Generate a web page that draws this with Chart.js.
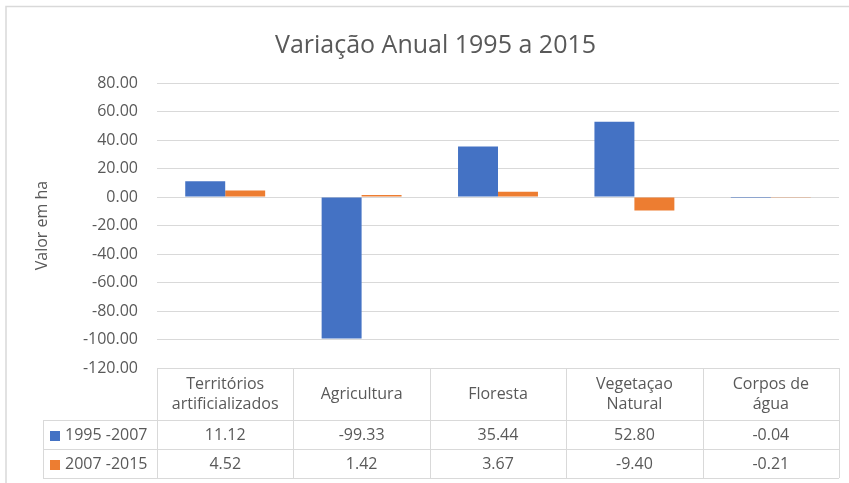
<!DOCTYPE html>
<html>
<head>
<meta charset="utf-8">
<script src="https://cdn.jsdelivr.net/npm/chart.js@4/dist/chart.umd.min.js"></script>
<style>
  body { margin: 0; background: #fff; }
  canvas { display: block; }
</style>
</head>
<body>
<canvas id="chart" width="849" height="483"></canvas>
<script>
// Chart data
const categories = [
  ["Territórios", "artificializados"],
  ["Agricultura"],
  ["Floresta"],
  ["Vegetaçao", "Natural"],
  ["Corpos de", "água"],
];
const seriesNames = ["1995 -2007", "2007 -2015"];
const values9507 = [11.12, -99.33, 35.44, 52.80, -0.04];
const values0715 = [4.52, 1.42, 3.67, -9.40, -0.21];
const yTicks = [80, 60, 40, 20, 0, -20, -40, -60, -80, -100, -120];

const FONT = "'Open Sans', 'DejaVu Sans', sans-serif";
const TEXT = "#595959";
const GRID = "#d9d9d9";
const colors = ["#4472C4", "#ED7D31"];
const seriesValues = [values9507, values0715];

// Excel-like data table under the plot
const dataTable = {
  id: "dataTable",
  beforeDraw(chart) {
    const ctx = chart.ctx;
    ctx.save();
    ctx.strokeStyle = GRID;
    ctx.lineWidth = 1.5;
    ctx.beginPath();
    ctx.moveTo(6, chart.height);
    ctx.lineTo(6, 6.5);
    ctx.lineTo(chart.width, 6.5);
    ctx.stroke();
    ctx.restore();
  },
  afterDraw(chart) {
    const ctx = chart.ctx;
    const x = chart.scales.x;
    const area = chart.chartArea;
    const colW = (area.right - area.left) / categories.length;
    const top = area.bottom;
    const row1 = 420, row2 = 449, bottom = 478, headLeft = 43;

    ctx.save();
    ctx.strokeStyle = GRID;
    ctx.lineWidth = 1;
    ctx.beginPath();
    [row1, row2, bottom].forEach((y) => {
      ctx.moveTo(headLeft, y + 0.5);
      ctx.lineTo(area.right, y + 0.5);
    });
    ctx.moveTo(headLeft + 0.5, row1);
    ctx.lineTo(headLeft + 0.5, bottom);
    for (let i = 0; i <= categories.length; i++) {
      const lx = Math.round(area.left + i * colW) + 0.5;
      ctx.moveTo(lx, top);
      ctx.lineTo(lx, bottom);
    }
    ctx.stroke();

    ctx.fillStyle = TEXT;
    ctx.font = "16px " + FONT;
    ctx.textAlign = "center";
    ctx.textBaseline = "middle";
    categories.forEach((lines, i) => {
      const cx = x.getPixelForValue(i);
      const mid = (top + row1) / 2;
      lines.forEach((line, j) => {
        const y = mid + (j - (lines.length - 1) / 2) * 20;
        ctx.fillText(line, cx, y);
      });
      seriesValues.forEach((vals, s) => {
        const y = s === 0 ? (row1 + row2) / 2 + 1 : (row2 + bottom) / 2 + 1;
        ctx.fillText(vals[i].toFixed(2), cx, y);
      });
    });

    ctx.textAlign = "left";
    seriesNames.forEach((name, s) => {
      const y = s === 0 ? (row1 + row2) / 2 + 1 : (row2 + bottom) / 2 + 1;
      ctx.fillStyle = colors[s];
      ctx.fillRect(50, Math.round(y) - 5, 10, 10);
      ctx.fillStyle = TEXT;
      ctx.fillText(name, 65, y);
    });
    ctx.restore();
  },
};

new Chart(document.getElementById("chart"), {
  type: "bar",
  data: {
    labels: categories.map((c) => c.join(" ")),
    datasets: seriesNames.map((name, s) => ({
      label: name,
      data: seriesValues[s],
      backgroundColor: colors[s],
      categoryPercentage: 0.586,
      barPercentage: 1,
    })),
  },
  options: {
    responsive: false,
    animation: false,
    layout: { padding: { top: 0, left: 32, right: 10, bottom: 115 } },
    plugins: {
      legend: { display: false },
      tooltip: { enabled: false },
      title: {
        display: true,
        text: "Variação Anual 1995 a 2015",
        color: TEXT,
        font: { family: FONT, size: 25, weight: "normal" },
        padding: { top: 31, bottom: 22 },
      },
    },
    scales: {
      x: { display: false },
      y: {
        min: -120,
        max: 80,
        afterBuildTicks(scale) {
          scale.ticks = yTicks.map((v) => ({ value: v }));
        },
        afterFit(scale) {
          scale.width = 125;
        },
        ticks: {
          color: TEXT,
          font: { family: FONT, size: 16 },
          padding: 19,
          callback: (v) => Number(v).toFixed(2),
        },
        grid: { color: GRID, lineWidth: 1, drawTicks: false },
        border: { display: false },
        title: {
          display: true,
          text: "Valor em ha",
          color: TEXT,
          font: { family: FONT, size: 16 },
          padding: { top: 1, bottom: 0 },
        },
      },
    },
  },
  plugins: [dataTable],
});
</script>
</body>
</html>
